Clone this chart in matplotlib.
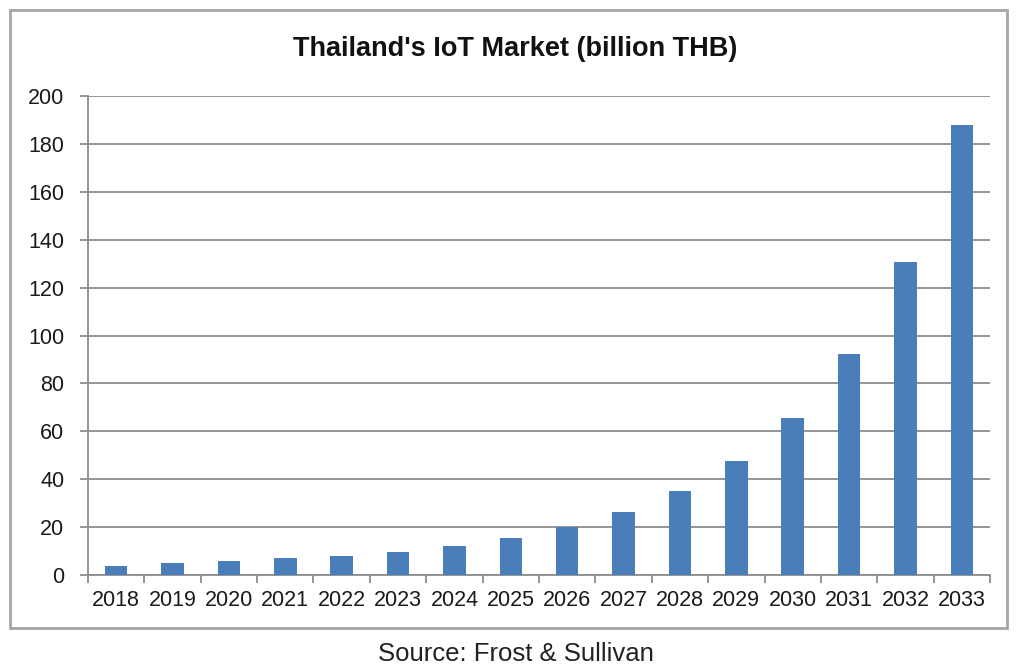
import numpy as np
import matplotlib.pyplot as plt
from matplotlib.patches import Rectangle

plt.rcParams['font.family'] = ['Liberation Sans', 'DejaVu Sans']

years = ['2018', '2019', '2020', '2021', '2022', '2023', '2024', '2025',
         '2026', '2027', '2028', '2029', '2030', '2031', '2032', '2033']
market = [3.8, 4.9, 5.8, 7.2, 8.1, 9.7, 12.2, 15.3,
          20.2, 26.2, 35.1, 47.7, 65.7, 92.1, 130.7, 187.9]
y_ticks = [0, 20, 40, 60, 80, 100, 120, 140, 160, 180, 200]

grid_col = '#8c8c8c'
bar_col = '#4a7ebb'

fig = plt.figure(figsize=(10.17, 6.68), dpi=100)
ax = fig.add_axes([0.0865, 0.1392, 0.8870, 0.7171])

x = np.arange(len(years))
ax.bar(x, market, width=0.4, color=bar_col, zorder=3)

ax.set_xlim(-0.5, len(years) - 0.5)
ax.set_ylim(0, 200)
ax.set_yticks(y_ticks)
ax.yaxis.grid(True, color=grid_col, linewidth=1.3, zorder=0)

ax.set_xticks(x)
ax.set_xticklabels(years)
ax.set_xticks(np.arange(-0.5, len(years)), minor=True)
ax.tick_params(axis='x', which='major', length=0, pad=11, labelsize=15.5, colors='#1a1a1a')
ax.tick_params(axis='x', which='minor', length=6, width=1.3, color=grid_col, direction='out')
ax.tick_params(axis='y', length=6, width=1.3, color=grid_col, pad=11, labelsize=15.5, labelcolor='#1a1a1a')

for side in ['top', 'right']:
    ax.spines[side].set_visible(False)
for side in ['left', 'bottom']:
    ax.spines[side].set_color(grid_col)
    ax.spines[side].set_linewidth(1.3)

fig.text(0.507, 0.927, "Thailand's IoT Market (billion THB)", ha='center', va='center',
         fontsize=19.5, fontweight='bold', color='#111111')

# outer frame around the chart
frame = Rectangle((10 / 1017, 1 - 628 / 668), 997 / 1017, 618 / 668,
                  transform=fig.transFigure, fill=False, edgecolor='#a6a6a6', linewidth=2)
fig.add_artist(frame)

fig.text(0.507, 0.021, 'Source: Frost & Sullivan', ha='center', va='center',
         fontsize=18.5, color='#222222')

fig.savefig('out.png', dpi=100, facecolor='white')
